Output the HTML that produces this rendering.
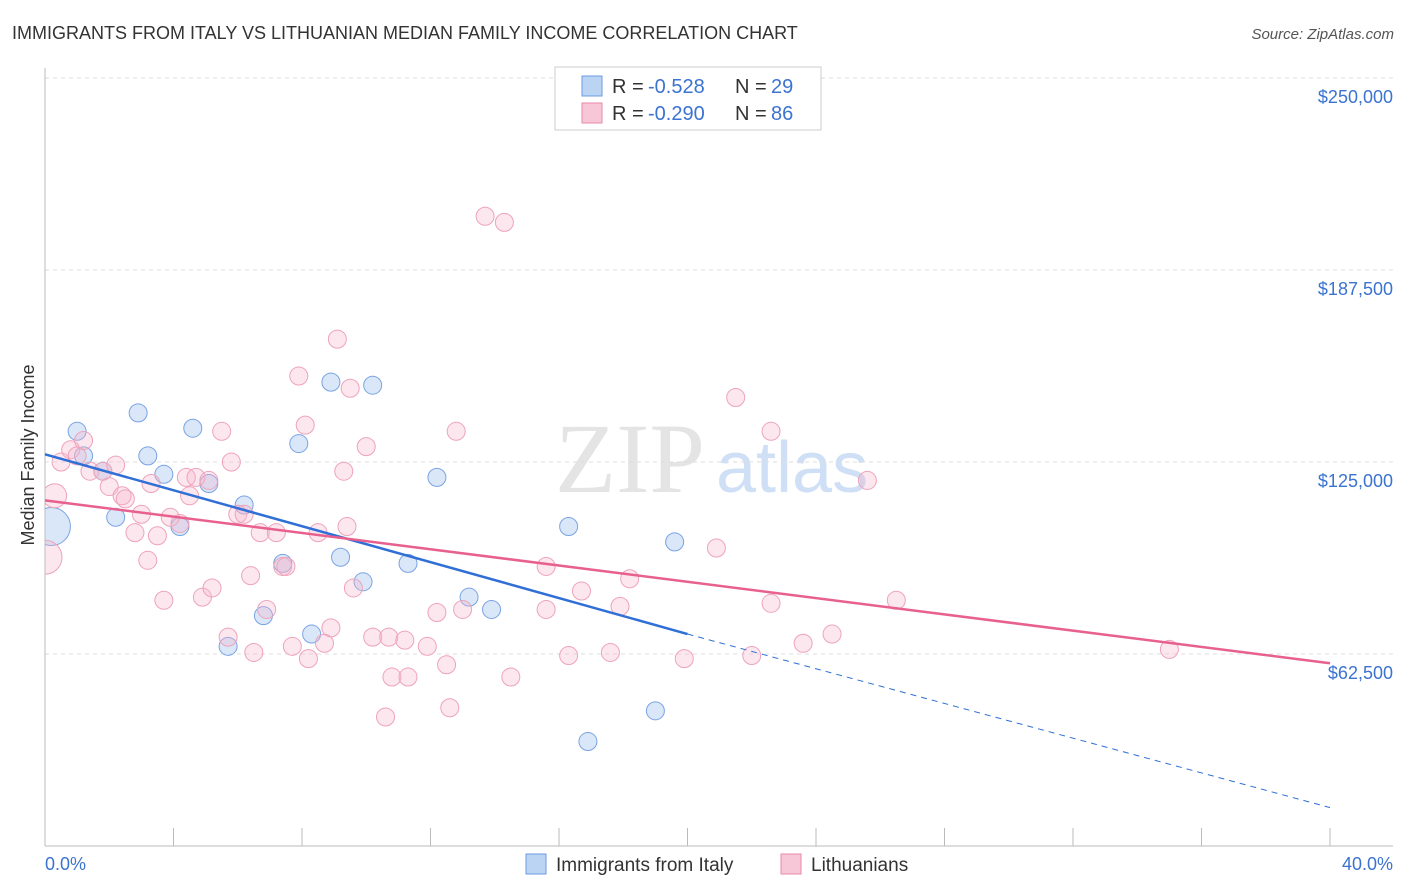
<!DOCTYPE html>
<html><head><meta charset="utf-8"><style>
body{margin:0;background:#fff;font-family:"Liberation Sans",sans-serif;}
svg{display:block}
</style></head><body>
<svg width="1406" height="892" xmlns="http://www.w3.org/2000/svg">
<defs><clipPath id="plot"><rect x="45" y="60" width="1360" height="786"/></clipPath></defs>
<text x="12" y="39" font-size="18" fill="#333">IMMIGRANTS FROM ITALY VS LITHUANIAN MEDIAN FAMILY INCOME CORRELATION CHART</text>
<text x="1394" y="39" font-size="15" fill="#555" font-style="italic" text-anchor="end">Source: ZipAtlas.com</text>
<text x="555" y="492" font-size="100" fill="#e4e4e4" font-family="Liberation Serif,serif">ZIP</text>
<text x="716" y="492" font-size="72" fill="#cfdff5">atlas</text>
<g id="grid"></g>
<g id="axes"></g>
<g id="pts" clip-path="url(#plot)"></g>
<g id="lines"></g>
<text transform="translate(34,455) rotate(-90)" font-size="18" fill="#333" text-anchor="middle">Median Family Income</text>
<text x="45" y="870" font-size="18" fill="#3b73d1">0.0%</text>
<text x="1393" y="870" font-size="18" fill="#3b73d1" text-anchor="end">40.0%</text>
<g>
<rect x="555" y="67" width="266" height="63" fill="#fff" stroke="#ccc"/>
<rect x="582" y="76" width="20" height="20" fill="#bcd4f4" stroke="#6d9ae0"/>
<text x="612" y="93" font-size="20" fill="#333">R =</text>
<text x="648" y="93" font-size="20" fill="#3b73d1">-0.528</text>
<text x="735" y="93" font-size="20" fill="#333">N =</text>
<text x="771" y="93" font-size="20" fill="#3b73d1">29</text>
<rect x="582" y="103" width="20" height="20" fill="#f8c7d7" stroke="#e88aa8"/>
<text x="612" y="120" font-size="20" fill="#333">R =</text>
<text x="648" y="120" font-size="20" fill="#3b73d1">-0.290</text>
<text x="735" y="120" font-size="20" fill="#333">N =</text>
<text x="771" y="120" font-size="20" fill="#3b73d1">86</text>
</g>
<g>
<rect x="526" y="854" width="20" height="20" fill="#bcd4f4" stroke="#6d9ae0"/>
<text x="556" y="871" font-size="19" fill="#333">Immigrants from Italy</text>
<rect x="781" y="854" width="20" height="20" fill="#f8c7d7" stroke="#e88aa8"/>
<text x="811" y="871" font-size="19" fill="#333">Lithuanians</text>
</g>
</svg>
<script>
const yTicks=[62500,125000,187500,250000];
const yTickLabels=["$62,500","$125,000","$187,500","$250,000"];
const xTicks=[0,4,8,12,16,20,24,28,32,36,40];
const italyX=[1.0,1.2,1.8,2.2,2.9,3.2,3.7,4.2,4.6,5.1,5.7,6.2,6.8,7.4,7.9,8.3,8.9,9.2,9.9,10.2,11.3,12.2,13.2,13.9,16.3,16.9,19.0,19.6,0.2];
const italyY=[135000,127000,122000,107000,141000,127000,121000,104000,136000,118000,65000,111000,75000,92000,131000,69000,151000,94000,86000,150000,92000,120000,81000,77000,104000,34000,44000,99000,104000];
const italyR=[9,9,9,9,9,9,9,9,9,9,9,9,9,9,9,9,9,9,9,9,9,9,9,9,9,9,9,9,19];
const lithX=[0.3,0.0,0.5,0.8,1.0,1.2,1.4,1.8,2.0,2.2,2.4,2.5,2.8,3.0,3.2,3.3,3.5,3.7,3.9,4.2,4.4,4.5,4.7,4.9,5.1,5.2,5.5,5.7,5.8,6.0,6.2,6.4,6.5,6.7,6.9,7.2,7.4,7.5,7.7,7.9,8.1,8.2,8.5,8.7,8.9,9.1,9.3,9.4,9.5,9.6,10.0,10.2,10.6,10.7,10.8,11.2,11.3,11.9,12.2,12.5,12.6,12.8,13.0,13.7,14.3,14.5,15.6,15.6,16.3,16.7,17.6,17.9,18.2,19.9,20.9,21.5,22.0,22.6,22.6,23.6,24.5,25.6,26.5,35.0];
const lithY=[114000,94000,125000,129000,127000,132000,122000,122000,117000,124000,114000,113000,102000,108000,93000,118000,101000,80000,107000,105000,120000,114000,120000,81000,119000,84000,135000,68000,125000,108000,108000,88000,63000,102000,77000,102000,91000,91000,65000,153000,137000,61000,102000,66000,71000,165000,122000,104000,149000,84000,130000,68000,42000,68000,55000,67000,55000,65000,76000,59000,45000,135000,77000,205000,203000,55000,77000,91000,62000,83000,63000,78000,87000,61000,97000,146000,62000,135000,79000,66000,69000,119000,80000,64000];
const lithR=[12,17,9,9,9,9,9,9,9,9,9,9,9,9,9,9,9,9,9,9,9,9,9,9,9,9,9,9,9,9,9,9,9,9,9,9,9,9,9,9,9,9,9,9,9,9,9,9,9,9,9,9,9,9,9,9,9,9,9,9,9,9,9,9,9,9,9,9,9,9,9,9,9,9,9,9,9,9,9,9,9,9,9,9];
const italyTrend=[[0,127500],[20,69000],[40,12500]];
const lithTrend=[[0,112500],[40,59500]];
const NS="http://www.w3.org/2000/svg";
const X=p=>45+p*1285/40;
const Y=v=>846-v*192/62500;
function mk(t,a,parent){const e=document.createElementNS(NS,t);for(const k in a)e.setAttribute(k,a[k]);document.getElementById(parent).appendChild(e);return e;}
yTicks.forEach((v,i)=>{
 const l=mk('line',{x1:45,x2:1393,y1:Y(v),y2:Y(v),stroke:'#ddd','stroke-dasharray':'4,4'},'grid');
 
 
 const t=mk('text',{x:1393,y:Y(v)+25,'font-size':18,fill:'#3b73d1','text-anchor':'end'},'grid');
 t.textContent=yTickLabels[i];
 
 
});
mk('line',{x1:45,x2:45,y1:68,y2:846,stroke:'#bbb'},'axes');
mk('line',{x1:45,x2:1393,y1:846,y2:846,stroke:'#bbb'},'axes');
xTicks.forEach(p=>{
 const l=mk('line',{x1:X(p),x2:X(p),y1:828,y2:846,stroke:'#bbb'},'axes');
 
 
});
italyX.forEach((p,i)=>{
 const c=mk('circle',{cx:X(p),cy:Y(italyY[i]),r:italyR[i],fill:'rgba(170,202,242,0.45)',stroke:'#7aa3e3','stroke-width':1},'pts');
 
 
});
lithX.forEach((p,i)=>{
 const c=mk('circle',{cx:X(p),cy:Y(lithY[i]),r:lithR[i],fill:'rgba(247,180,202,0.32)',stroke:'#eea3bb','stroke-width':1},'pts');
 
 
});
let l1=mk('line',{x1:X(italyTrend[0][0]),y1:Y(italyTrend[0][1]),x2:X(italyTrend[1][0]),y2:Y(italyTrend[1][1]),stroke:'#2f6fd6','stroke-width':2.5},'lines');


let l2=mk('line',{x1:X(italyTrend[1][0]),y1:Y(italyTrend[1][1]),x2:X(italyTrend[2][0]),y2:Y(italyTrend[2][1]),stroke:'#2f6fd6','stroke-width':1,'stroke-dasharray':'6,5'},'lines');


let l3=mk('line',{x1:X(lithTrend[0][0]),y1:Y(lithTrend[0][1]),x2:X(lithTrend[1][0]),y2:Y(lithTrend[1][1]),stroke:'#e8608e','stroke-width':2.5},'lines');


</script>
</body></html>
